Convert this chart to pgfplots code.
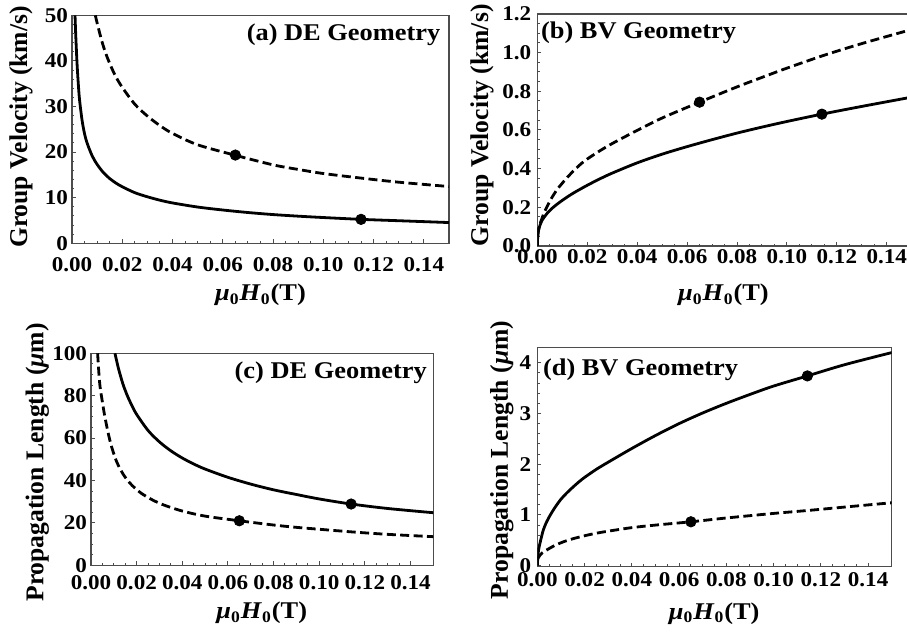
\documentclass[border=0pt]{standalone}
\usepackage{fontspec}
\setmainfont{Liberation Serif}[FakeStretch=1.1]
\newfontfamily\yfont{Liberation Serif}
\usepackage{pgfplots}
\pgfplotsset{compat=1.18}
\tikzset{ttl/.style={inner sep=0pt, font=\bfseries\fontsize{12}{12}\selectfont}}
\begin{document}
\begin{tikzpicture}
\pgfplotsset{
 panel/.style={
  scale only axis, xmin=0, xmax=0.15,
  axis line style={black!70, line width=0.6pt},
  tick style={black!70, line width=0.5pt},
  tick align=inside, xtick pos=bottom, ytick pos=left,
  major tick length=2pt, minor tick length=1.2pt,
  xtick={0,0.02,0.04,0.06,0.08,0.1,0.12,0.14}, minor x tick num=3,
  /pgf/number format/assume math mode=true,
  ticklabel style={font=\bfseries\fontsize{10.5}{10.5}\selectfont},
  xticklabel style={/pgf/number format/fixed, /pgf/number format/fixed zerofill, /pgf/number format/precision=2},
  xlabel style={font=\bfseries\fontsize{12}{12}\selectfont},
  ylabel style={font=\bfseries\fontsize{12.8}{12.8}\selectfont},
  xlabel={\textit{μ}\textsubscript{0}\textit{H}\textsubscript{0}(T)},
 },
 sol/.style={black, line width=1.4pt, smooth},
 das/.style={black, line width=1.4pt, dash pattern=on 4.5pt off 2.2pt, smooth},
 dot/.style={only marks, mark=*, mark size=2.6pt, black},
}
% (a)
\begin{axis}[panel, at={(36pt,194.85pt)}, anchor=south west, width=188.5pt, height=114pt,
  ymin=0, ymax=50, ytick={0,10,20,30,40,50}, minor y tick num=4,
  xticklabel style={yshift=-3.6pt}, yticklabel style={xshift=1.5pt},
  xlabel style={at={(axis description cs:0.5,-0.227)}, anchor=center},
  ylabel={\yfont Group Velocity (km/s)},
  ylabel style={at={(axis description cs:-0.135,0.51)}, anchor=center}]
\addplot[sol] coordinates {(0.0012,50) (0.0015,45.5) (0.002,39.5) (0.0025,35.0) (0.003,31.5) (0.004,27.0) (0.005,24.0) (0.006,22.0) (0.008,19.2) (0.010,17.3) (0.0125,15.5) (0.015,14.2) (0.0175,13.2) (0.02,12.4) (0.025,11.1) (0.03,10.2) (0.035,9.45) (0.04,8.85) (0.05,7.95) (0.06,7.3) (0.07,6.75) (0.08,6.3) (0.09,5.95) (0.10,5.65) (0.115,5.25) (0.13,4.95) (0.15,4.55)};
\addplot[das] coordinates {(0.0093,50) (0.010,48.3) (0.012,44.1) (0.014,40.8) (0.017,37.0) (0.02,34.2) (0.025,30.5) (0.03,27.9) (0.035,25.8) (0.04,24.1) (0.05,21.6) (0.065,19.3) (0.08,17.2) (0.09,16.2) (0.10,15.3) (0.115,14.3) (0.13,13.4) (0.15,12.45)};
\addplot[dot] coordinates {(0.065,19.35) (0.115,5.25)};
\node[ttl, anchor=east] at (rel axis cs:0.978,0.914) {(a) DE Geometry};
\end{axis}
% (b)
\begin{axis}[panel, at={(268.67pt,193.5pt)}, anchor=south west, width=187.2pt, height=116pt,
  ymin=0, ymax=1.2, ytick={0,0.2,0.4,0.6,0.8,1.0,1.2}, minor y tick num=3,
  yticklabel style={/pgf/number format/fixed, /pgf/number format/fixed zerofill, /pgf/number format/precision=1},
  xticklabel style={yshift=2.0pt}, yticklabel style={xshift=0.5pt},
  xlabel style={at={(axis description cs:0.497,-0.211)}, anchor=center},
  ylabel={\yfont Group Velocity (km/s)},
  ylabel style={at={(axis description cs:-0.148,0.52)}, anchor=center}]
\addplot[sol] coordinates {(0,0) (0.0001,0.035) (0.0004,0.075) (0.001,0.105) (0.002,0.135) (0.004,0.17) (0.006,0.196) (0.008,0.217) (0.01,0.236) (0.0125,0.258) (0.015,0.278) (0.02,0.314) (0.025,0.347) (0.03,0.377) (0.04,0.43) (0.05,0.475) (0.06,0.514) (0.07,0.55) (0.08,0.584) (0.09,0.615) (0.10,0.644) (0.114,0.682) (0.13,0.722) (0.15,0.77)};
\addplot[das] coordinates {(0.0001,0.05) (0.0004,0.08) (0.001,0.11) (0.0025,0.165) (0.005,0.232) (0.0078,0.29) (0.01,0.325) (0.012,0.355) (0.015,0.395) (0.0175,0.425) (0.02,0.45) (0.025,0.492) (0.03,0.53) (0.04,0.598) (0.05,0.662) (0.065,0.744) (0.08,0.823) (0.09,0.872) (0.10,0.92) (0.115,0.987) (0.13,1.047) (0.15,1.12)};
\addplot[dot] coordinates {(0.065,0.744) (0.114,0.682)};
\node[ttl, anchor=west] at (rel axis cs:0.009,0.917) {(b) BV Geometry};
\end{axis}
% (c)
\begin{axis}[panel, at={(45.5pt,33.85pt)}, anchor=south west, width=171.15pt, height=106pt,
  ymin=0, ymax=100, ytick={0,20,40,60,80,100}, minor y tick num=3,
  xticklabel style={yshift=-1.7pt}, yticklabel style={xshift=1.5pt},
  xlabel style={at={(axis description cs:0.499,-0.226)}, anchor=center},
  ylabel={\yfont Propagation Length (\textit{μ}m)},
  ylabel style={at={(axis description cs:-0.157,0.485)}, anchor=center}]
\addplot[sol] coordinates {(0.0105,100) (0.012,93) (0.014,85.5) (0.016,79.8) (0.018,75.2) (0.02,71.2) (0.025,63.6) (0.03,58.2) (0.035,54.0) (0.04,50.6) (0.045,47.8) (0.05,45.4) (0.06,41.5) (0.07,38.3) (0.08,35.6) (0.09,33.4) (0.10,31.3) (0.114,28.9) (0.13,26.8) (0.15,24.8)};
\addplot[das] coordinates {(0.0029,100) (0.0035,90) (0.004,84) (0.005,77) (0.006,70.5) (0.0075,62.5) (0.009,56) (0.011,49.5) (0.013,45) (0.015,41.5) (0.018,37.7) (0.022,34) (0.027,30.8) (0.032,28.4) (0.04,25.6) (0.05,23.2) (0.065,21.0) (0.08,19.0) (0.09,17.9) (0.10,17.0) (0.115,15.7) (0.13,14.6) (0.15,13.5)};
\addplot[dot] coordinates {(0.065,21.0) (0.114,28.9)};
\node[ttl, anchor=east] at (rel axis cs:0.982,0.906) {(c) DE Geometry};
\end{axis}
% (d)
\begin{axis}[panel, at={(268.67pt,33.15pt)}, anchor=south west, width=177.2pt, height=109.5pt,
  ymin=-0.02, ymax=4.296, ytick={0,1,2,3,4}, minor y tick num=4,
  xticklabel style={yshift=0.6pt}, yticklabel style={xshift=0.5pt},
  xlabel style={at={(axis description cs:0.499,-0.213)}, anchor=center},
  ylabel={\yfont Propagation Length (\textit{μ}m)},
  ylabel style={at={(axis description cs:-0.100,0.487)}, anchor=center}]
\addplot[sol] coordinates {(0,0) (0.0002,0.17) (0.0005,0.3) (0.001,0.42) (0.0025,0.70) (0.004,0.87) (0.0055,1.0) (0.0075,1.15) (0.01,1.31) (0.0125,1.435) (0.015,1.545) (0.0175,1.648) (0.02,1.74) (0.025,1.9) (0.03,2.04) (0.04,2.31) (0.05,2.565) (0.06,2.80) (0.07,3.01) (0.08,3.2) (0.09,3.375) (0.10,3.54) (0.1143,3.74) (0.13,3.96) (0.15,4.2)};
\addplot[das] coordinates {(0,0.12) (0.001,0.2) (0.002,0.25) (0.004,0.31) (0.007,0.39) (0.011,0.47) (0.015,0.53) (0.02,0.59) (0.025,0.64) (0.03,0.68) (0.04,0.75) (0.05,0.80) (0.065,0.865) (0.08,0.94) (0.10,1.03) (0.115,1.09) (0.13,1.155) (0.15,1.24)};
\addplot[dot] coordinates {(0.065,0.865) (0.1143,3.74)};
\node[ttl, anchor=west] at (rel axis cs:0.015,0.898) {(d) BV Geometry};
\end{axis}
\pgfresetboundingbox
\useasboundingbox (0pt,0pt) rectangle (453.5pt,316.5pt);
\end{tikzpicture}
\end{document}
